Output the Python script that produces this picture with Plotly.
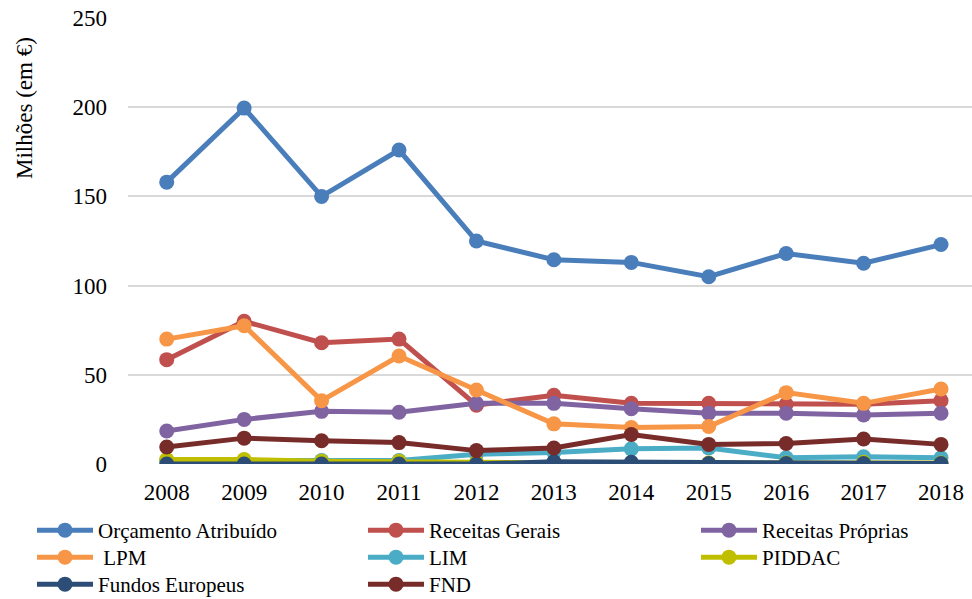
import plotly.graph_objects as go

anos = ["2008", "2009", "2010", "2011", "2012", "2013", "2014", "2015", "2016", "2017", "2018"]

orcamento_atribuido = [158, 199.5, 150, 176, 125, 114.5, 113, 105, 118, 112.5, 123]
receitas_gerais = [58.5, 80, 68, 70, 33, 38.5, 34, 34, 33.5, 33.5, 35.5]
receitas_proprias = [18.5, 25, 29.5, 29, 34, 34, 31, 28.5, 28.5, 27.5, 28.5]
lpm = [70, 77.5, 35.5, 60.5, 41.5, 22.5, 20.5, 21, 40, 34, 42]
lim = [2, 2, 2, 2, 5.5, 6.5, 8.5, 9, 3.5, 4, 3.5]
piddac = [2.5, 2.5, 1.5, 1.5, 1, 0.5, 0.5, 0.5, 0.5, 1, 0.5]
fundos_europeus = [0, 0, 0, 0, 0, 1.2, 1, 0.3, 0.3, 0.3, 0.3]
fnd = [9.5, 14.5, 13, 12, 7.5, 9, 16.5, 11, 11.5, 14, 11]

y_ticks = [0, 50, 100, 150, 200, 250]

series_names = ["Orçamento Atribuído", "Receitas Gerais", "Receitas Próprias", " LPM",
                "LIM", "PIDDAC", "Fundos Europeus", "FND"]
series_values = [orcamento_atribuido, receitas_gerais, receitas_proprias, lpm,
                 lim, piddac, fundos_europeus, fnd]
series_colors = ["#4A7EBB", "#C0504D", "#8064A2", "#F79646",
                 "#4BACC6", "#BFBF00", "#2C4D75", "#772C2A"]

FONT = "Liberation Serif, Times New Roman, serif"
TICK_SIZE = 23
LEGEND_SIZE = 21
W, H = 972, 599

# legend grid: three columns, three rows below the plot (pixel positions)
LEG_COLS = [32, 363, 696]
LEG_ROWS = [510, 537, 564]

fig = go.Figure()
legends = {}
for i, (name, vals, color) in enumerate(zip(series_names, series_values, series_colors)):
    key = "legend" if i == 0 else f"legend{i + 1}"
    fig.add_trace(go.Scatter(
        x=anos, y=vals, name=name, mode="lines+markers",
        line=dict(color=color, width=5),
        marker=dict(color=color, size=15),
        legend=key,
    ))
    col, row = i % 3, i // 3
    legends[key] = dict(
        xref="container", yref="container",
        x=LEG_COLS[col] / W, y=1 - LEG_ROWS[row] / H,
        xanchor="left", yanchor="top",
        orientation="v", bgcolor="rgba(0,0,0,0)",
        font=dict(family=FONT, size=LEGEND_SIZE, color="#000000"),
        itemwidth=56,
    )

fig.update_layout(
    width=W, height=H,
    margin=dict(l=128, r=0, t=18, b=135, autoexpand=False),
    paper_bgcolor="white", plot_bgcolor="white",
    font=dict(family=FONT, size=TICK_SIZE, color="#000000"),
    showlegend=True,
    **legends,
    xaxis=dict(
        type="category", range=[-0.5, 10.4],
        showgrid=False, zeroline=False, showline=False,
        ticks="", ticklabelstandoff=12,
        tickfont=dict(family=FONT, size=TICK_SIZE, color="#000000"),
    ),
    yaxis=dict(
        range=[0, 250], tickvals=y_ticks,
        showgrid=True, gridcolor="#D9D9D9", gridwidth=1.5,
        zeroline=False, showline=False, ticks="",
        ticklabelstandoff=20,
        tickfont=dict(family=FONT, size=TICK_SIZE, color="#000000"),
    ),
    annotations=[dict(
        text="Milhões (em €)", textangle=-90,
        xref="paper", yref="paper", x=-(128 - 24) / 844, y=1 - (108 - 18) / 446,
        xanchor="center", yanchor="middle", showarrow=False,
        font=dict(family=FONT, size=23, color="#000000"),
    )],
)

fig.write_html("out.html")
